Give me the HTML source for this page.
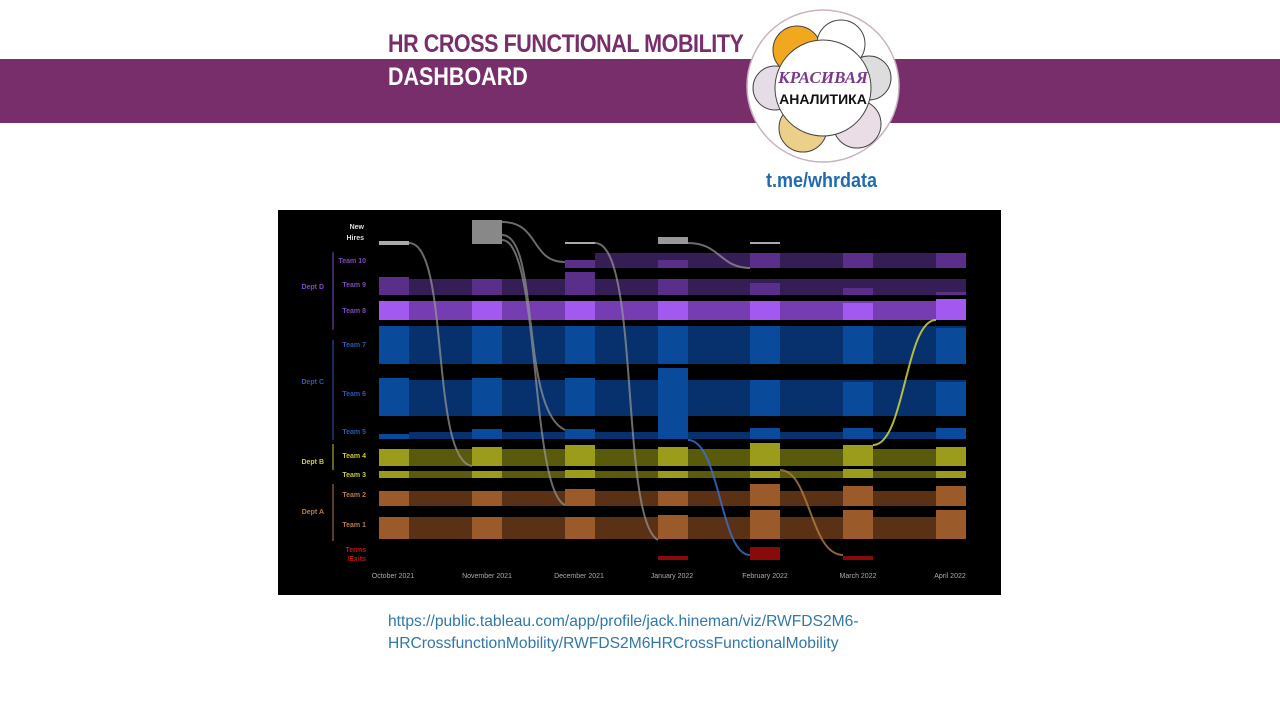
<!DOCTYPE html>
<html><head><meta charset="utf-8"><style>
body{margin:0;width:1280px;height:719px;background:#fff;position:relative;overflow:hidden;font-family:"Liberation Sans",sans-serif}
.band{position:absolute;left:0;top:59px;width:1280px;height:64px;background:#772e6a}
.t1{position:absolute;left:388px;top:30px;font-size:25px;font-weight:bold;color:#772e6a;letter-spacing:-0.5px;transform:scaleX(0.86);transform-origin:left}
.t2{position:absolute;left:388px;top:63px;font-size:25px;font-weight:bold;color:#fff;transform:scaleX(0.86);transform-origin:left}
.url{position:absolute;left:388px;top:611px;font-size:16px;line-height:22px;color:#2f78a8;transform:scaleX(0.975);transform-origin:left}
.tme{position:absolute;left:766px;top:170px;font-size:20px;font-weight:bold;color:#1f6ab0;transform:scaleX(0.9);transform-origin:left}
</style></head><body>
<div class="band"></div>
<div class="t1">HR CROSS FUNCTIONAL MOBILITY</div>
<div class="t2">DASHBOARD</div>
<svg style="position:absolute;left:745px;top:8px" width="160" height="160" viewBox="0 0 160 160">
<circle cx="78" cy="78" r="76" fill="#fff" stroke="#c9b2c4" stroke-width="1.5"/>
<circle cx="52" cy="42" r="24" fill="#f2a81e" stroke="#444"/>
<circle cx="96" cy="36" r="24" fill="#fff" stroke="#444"/>
<circle cx="124" cy="70" r="22" fill="#ddd" stroke="#444"/>
<circle cx="112" cy="116" r="24" fill="#eadde6" stroke="#444"/>
<circle cx="58" cy="120" r="24" fill="#ecd08a" stroke="#444"/>
<circle cx="30" cy="80" r="22" fill="#e6dce6" stroke="#444"/>
<circle cx="78" cy="80" r="48" fill="#fff" stroke="#444"/>
<text x="78" y="75" text-anchor="middle" font-family="Liberation Serif,serif" font-style="italic" font-weight="bold" font-size="17" fill="#7a3a8a">КРАСИВАЯ</text>
<text x="78" y="96" text-anchor="middle" font-family="Liberation Sans,sans-serif" font-weight="bold" font-size="14" fill="#111">АНАЛИТИКА</text>
</svg>
<div class="tme">t.me/whrdata</div>
<svg style="position:absolute;left:278px;top:210px" width="723" height="385" viewBox="278 210 723 385">
<rect x="278" y="210" width="723" height="385" fill="#000"/>
<g font-family="Liberation Sans,sans-serif" font-size="7" font-weight="bold" text-anchor="end">
<text x="364" y="229" fill="#ddd">New</text><text x="364" y="240" fill="#ddd">Hires</text>
<text x="366" y="263" fill="#7a4ac0">Team 10</text>
<text x="366" y="287" fill="#7a4ac0">Team 9</text>
<text x="366" y="313" fill="#7a4ac0">Team 8</text>
<text x="366" y="347" fill="#2a5ab0">Team 7</text>
<text x="366" y="396" fill="#2a5ab0">Team 6</text>
<text x="366" y="434" fill="#2a5ab0">Team 5</text>
<text x="366" y="458" fill="#c8c83a">Team 4</text>
<text x="366" y="477" fill="#c8c83a">Team 3</text>
<text x="366" y="497" fill="#b87a4a">Team 2</text>
<text x="366" y="527" fill="#b87a4a">Team 1</text>
<text x="366" y="552" fill="#c01818">Terms</text><text x="366" y="561" fill="#c01818">/Exits</text>
<text x="324" y="289" fill="#7a4ac0">Dept D</text>
<text x="324" y="384" fill="#2a5ab0">Dept C</text>
<text x="324" y="464" fill="#c8c83a">Dept B</text>
<text x="324" y="514" fill="#b87a4a">Dept A</text>
</g>
<g fill="none" stroke-width="1">
<path d="M333 252V330" stroke="#7a4ac0"/><path d="M333 340V440" stroke="#2a5ab0"/><path d="M333 444V470" stroke="#c8c83a"/><path d="M333 484V541" stroke="#b87a4a"/>
</g>
<g opacity="0.85">
<rect x="409" y="279" width="557" height="16" fill="#3f2366"/>
<rect x="409" y="301" width="557" height="19" fill="#8a48d0"/>
<rect x="409" y="326" width="557" height="38" fill="#083a80"/>
<rect x="409" y="380" width="557" height="36" fill="#083a80"/>
<rect x="409" y="432" width="557" height="7" fill="#083a80"/>
<rect x="409" y="449" width="557" height="17" fill="#6a6a10"/>
<rect x="409" y="471" width="557" height="7" fill="#6a6a10"/>
<rect x="409" y="491" width="557" height="15" fill="#6a3a18"/>
<rect x="409" y="517" width="557" height="22" fill="#6a3a18"/>
<rect x="595" y="253" width="371" height="15" fill="#3f2366"/>
</g>
<g fill="none" stroke="#999" stroke-width="2" opacity="0.7">
<path d="M502 222C540 222 530 262 565 262"/><path d="M502 235C540 235 520 410 565 430"/><path d="M502 240C540 240 530 490 565 505"/>
<path d="M409 243C450 243 430 460 472 466"/><path d="M595 243C640 243 620 520 658 540"/><path d="M688 243C720 243 720 268 750 268"/>
</g>
<g fill="none" stroke-width="2" opacity="0.8">
<path d="M873 445C905 445 905 320 936 320" stroke="#e0e040"/>
<path d="M688 440C720 440 720 555 750 555" stroke="#3a70d0"/>
<path d="M780 470C810 470 810 555 843 555" stroke="#b08040"/>
</g>
<g>
<rect x="379" y="241" width="30" height="4" fill="#aaa"/><rect x="472" y="220" width="30" height="24" fill="#888"/>
<rect x="565" y="242" width="30" height="2" fill="#aaa"/><rect x="658" y="237" width="30" height="7" fill="#999"/><rect x="750" y="242" width="30" height="2" fill="#aaa"/>
</g>
<g>
<rect x="565" y="260" width="30" height="8" fill="#5a2f8a"/><rect x="658" y="260" width="30" height="8" fill="#5a2f8a"/>
<rect x="750" y="253" width="30" height="15" fill="#5a2f8a"/><rect x="843" y="253" width="30" height="15" fill="#5a2f8a"/><rect x="936" y="253" width="30" height="15" fill="#5a2f8a"/>
</g>
<g fill="#5a2f8a"><rect x="379" y="277" width="30" height="18"/><rect x="472" y="279" width="30" height="16"/><rect x="565" y="272" width="30" height="23"/><rect x="658" y="279" width="30" height="16"/><rect x="750" y="283" width="30" height="12"/><rect x="843" y="288" width="30" height="7"/><rect x="936" y="292" width="30" height="3"/></g>
<g fill="#a259f0"><rect x="379" y="301" width="30" height="19"/><rect x="472" y="301" width="30" height="19"/><rect x="565" y="301" width="30" height="19"/><rect x="658" y="301" width="30" height="19"/><rect x="750" y="301" width="30" height="19"/><rect x="843" y="303" width="30" height="17"/><rect x="936" y="299" width="30" height="21"/></g>
<g fill="#0a4a9a"><rect x="379" y="326" width="30" height="38"/><rect x="472" y="326" width="30" height="38"/><rect x="565" y="326" width="30" height="38"/><rect x="658" y="326" width="30" height="38"/><rect x="750" y="326" width="30" height="38"/><rect x="843" y="326" width="30" height="38"/><rect x="936" y="328" width="30" height="36"/>
<rect x="379" y="378" width="30" height="38"/><rect x="472" y="378" width="30" height="38"/><rect x="565" y="378" width="30" height="38"/><rect x="658" y="368" width="30" height="60"/><rect x="750" y="380" width="30" height="36"/><rect x="843" y="382" width="30" height="34"/><rect x="936" y="382" width="30" height="34"/>
<rect x="379" y="434" width="30" height="5"/><rect x="472" y="429" width="30" height="10"/><rect x="565" y="429" width="30" height="10"/><rect x="658" y="428" width="30" height="11"/><rect x="750" y="428" width="30" height="11"/><rect x="843" y="428" width="30" height="11"/><rect x="936" y="428" width="30" height="11"/></g>
<g fill="#9c9c1c"><rect x="379" y="449" width="30" height="17"/><rect x="472" y="447" width="30" height="19"/><rect x="565" y="445" width="30" height="21"/><rect x="658" y="447" width="30" height="19"/><rect x="750" y="443" width="30" height="23"/><rect x="843" y="445" width="30" height="21"/><rect x="936" y="447" width="30" height="19"/>
<rect x="379" y="471" width="30" height="7"/><rect x="472" y="471" width="30" height="7"/><rect x="565" y="470" width="30" height="8"/><rect x="658" y="471" width="30" height="7"/><rect x="750" y="471" width="30" height="7"/><rect x="843" y="469" width="30" height="9"/><rect x="936" y="471" width="30" height="7"/></g>
<g fill="#9a5a2a"><rect x="379" y="491" width="30" height="15"/><rect x="472" y="491" width="30" height="15"/><rect x="565" y="489" width="30" height="17"/><rect x="658" y="491" width="30" height="15"/><rect x="750" y="484" width="30" height="22"/><rect x="843" y="486" width="30" height="20"/><rect x="936" y="486" width="30" height="20"/>
<rect x="379" y="517" width="30" height="22"/><rect x="472" y="517" width="30" height="22"/><rect x="565" y="517" width="30" height="22"/><rect x="658" y="515" width="30" height="24"/><rect x="750" y="510" width="30" height="29"/><rect x="843" y="510" width="30" height="29"/><rect x="936" y="510" width="30" height="29"/></g>
<g fill="#8a0a0a"><rect x="658" y="556" width="30" height="4"/><rect x="750" y="547" width="30" height="13"/><rect x="843" y="556" width="30" height="4"/></g>
<g font-family="Liberation Sans,sans-serif" font-size="7" fill="#aaa" text-anchor="middle">
<text x="393" y="578">October 2021</text><text x="487" y="578">November 2021</text><text x="579" y="578">December 2021</text><text x="672" y="578">January 2022</text><text x="765" y="578">February 2022</text><text x="858" y="578">March 2022</text><text x="950" y="578">April 2022</text>
</g>
</svg>
<div class="url">https://public.tableau.com/app/profile/jack.hineman/viz/RWFDS2M6-<br>HRCrossfunctionMobility/RWFDS2M6HRCrossFunctionalMobility</div>
</body></html>
